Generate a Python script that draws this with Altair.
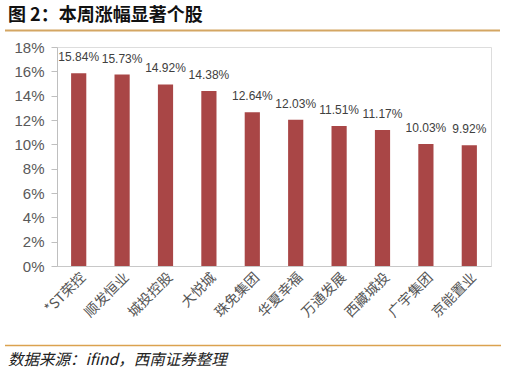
import altair as alt
import pandas as pd

stocks = ["*ST荣控", "顺发恒业", "城投控股", "大悦城", "珠免集团", "华夏幸福", "万通发展", "西藏城投", "广宇集团", "京能置业"]
gains = [0.1584, 0.1573, 0.1492, 0.1438, 0.1264, 0.1203, 0.1151, 0.1117, 0.1003, 0.0992]
y_ticks = [0, 0.02, 0.04, 0.06, 0.08, 0.10, 0.12, 0.14, 0.16, 0.18]
title_text = "图 2：本周涨幅显著个股"
source_text = "数据来源：ifind，西南证券整理"

df = pd.DataFrame({"stock": stocks, "gain": gains})
df["label"] = [f"{v*100:.2f}%" for v in gains]

x_enc = alt.X("stock:N", sort=stocks,
              scale=alt.Scale(paddingInner=0.65, paddingOuter=0.325),
              axis=alt.Axis(title=None, labelAngle=-45, labelFont="Noto Sans CJK SC",
                            labelFontSize=14, labelColor="#555555", ticks=False,
                            domainColor="#C8C8C8", labelPadding=4, labelOverlap=False))
y_enc = alt.Y("gain:Q", scale=alt.Scale(domain=[0, 0.18], nice=False),
              axis=alt.Axis(title=None, values=y_ticks, format=".0%", grid=False,
                            labelFont="Liberation Sans", labelFontSize=15,
                            labelColor="#595959", tickColor="#BFBFBF", tickSize=6,
                            domainColor="#BFBFBF", labelPadding=7,
                            labelOverlap=False, labelBound=False, labelFlush=False))

base = alt.Chart(df)
bars = base.mark_bar(color="#A94646").encode(x=x_enc, y=y_enc)
labels = base.mark_text(font="Liberation Sans", fontSize=12, color="#404040",
                        baseline="bottom", dy=-9).encode(
    x=x_enc, y=y_enc, text="label:N")

tdf = pd.DataFrame({"t": [title_text]})
title = alt.Chart(tdf).mark_text(font="Noto Sans CJK SC", fontSize=18, fontWeight="bold",
                                 align="left", baseline="middle", color="#111111").encode(
    text="t:N", x=alt.value(-49), y=alt.value(-31))
sdf = pd.DataFrame({"t": [source_text]})
source = alt.Chart(sdf).mark_text(font="Noto Sans CJK SC", fontSize=15.5, fontStyle="italic",
                                  align="left", baseline="middle", color="#222222").encode(
    text="t:N", x=alt.value(-49), y=alt.value(313))
ldf = pd.DataFrame({"k": [1]})
top_line = alt.Chart(ldf).mark_rule(color="#D4A663", strokeWidth=2).encode(
    x=alt.value(-52), x2=alt.value(443), y=alt.value(-16.5))
bottom_line = alt.Chart(ldf).mark_rule(color="#DBA24F", strokeWidth=1.5).encode(
    x=alt.value(-52), x2=alt.value(444), y=alt.value(298.5))

chart = alt.layer(bars, labels, title, source, top_line, bottom_line).properties(
    width=434, height=219,
    padding={"left": 57, "top": 47, "right": 16, "bottom": 111},
    autosize=alt.AutoSizeParams(type="none"),
).configure_view(stroke=None).configure(background="white")

chart.save("out.html", embed_options={"renderer": "svg", "actions": False})
